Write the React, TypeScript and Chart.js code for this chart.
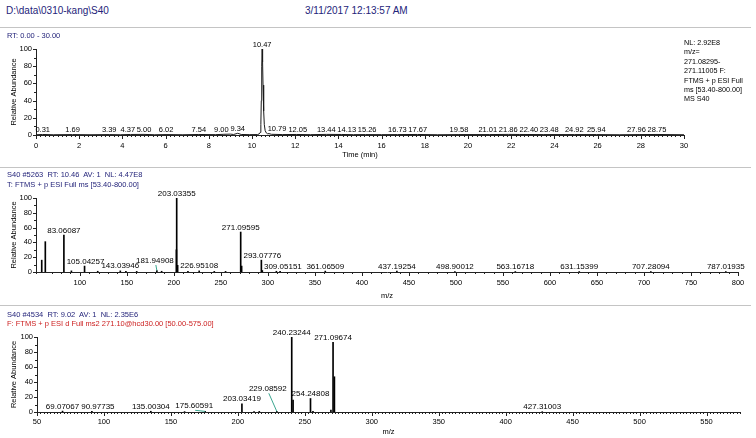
import React, { useEffect, useRef } from 'react';
import { Chart, registerables } from 'chart.js';

Chart.register(...registerables);

const FONT = 'Arial, "Liberation Sans", sans-serif';
const AXIS = '#222222';
const LEADER = '#3aa58f';

// ---------- Panel 1: chromatogram (time in min, relative abundance %) ----------
const chromTime = [
  0, 0.31, 0.8, 1.69, 2.5, 3.39, 3.9, 4.37, 5.0, 5.5, 6.02, 6.8, 7.54, 8.3, 8.7, 9.0, 9.15, 9.34, 9.5, 9.9,
  10.25, 10.33, 10.38, 10.41, 10.43, 10.45, 10.47, 10.49, 10.51, 10.54, 10.57, 10.61, 10.66, 10.72, 10.79, 10.9,
  11.4, 12.05, 12.7, 13.44, 14.13, 14.7, 15.26, 16.0, 16.73, 17.67, 18.6, 19.58, 21.01, 21.86, 22.4, 23.48,
  24.92, 25.94, 27.0, 27.96, 28.75, 30.0,
];
const chromAbund = [
  0.3, 0.6, 0.3, 0.5, 0.3, 0.5, 0.3, 0.6, 0.7, 0.3, 0.5, 0.3, 0.6, 0.4, 0.8, 1.0, 0.6, 2.0, 0.6, 0.4,
  0.5, 1.2, 3, 12, 40, 80, 100, 85, 58, 28, 12, 5, 2.5, 1.4, 1.6, 0.8,
  0.5, 0.6, 0.4, 0.7, 0.6, 0.4, 0.5, 0.4, 0.5, 0.6, 0.3, 0.5, 0.5, 0.7, 0.6, 0.5,
  0.5, 0.5, 0.3, 0.5, 0.6, 0.3,
];
const chromPeakLabels = [
  '0.31', '1.69', '3.39', '4.37', '5.00', '6.02', '7.54', '9.00', '9.34', '10.47', '10.79', '12.05', '13.44',
  '14.13', '15.26', '16.73', '17.67', '19.58', '21.01', '21.86', '22.40', '23.48', '24.92', '25.94', '27.96', '28.75',
];

// ---------- Panel 2: full MS spectrum ----------
const ms1Mz = [
  59.49, 63.3, 83.06087, 91.05, 105.04257, 119.05, 143.03946, 149.02, 160.5, 181.94908, 187.0, 202.7, 203.03355,
  204.04, 215.0, 226.95108, 243.0, 255.0, 271.09595, 272.1, 293.07776, 294.08, 309.05151, 313.0, 361.06509,
  437.19254, 498.90012, 563.16718, 631.15399, 707.28094, 787.01935,
];
const ms1Abund = [
  16, 41, 50, 1.5, 8, 1, 1.5, 1, 0.8, 2, 1, 30, 100,
  9, 1, 1.5, 0.8, 0.8, 54, 8, 16, 2, 1, 1, 1.2,
  1.2, 0.6, 0.6, 0.6, 0.6, 0.6,
];
const ms1PeakLabels = [
  '83.06087', '105.04257', '143.03946', '181.94908', '203.03355', '226.95108', '271.09595', '293.07776',
  '309.05151', '361.06509', '437.19254', '498.90012', '563.16718', '631.15399', '707.28094', '787.01935',
];

// ---------- Panel 3: MS2 spectrum ----------
const ms2Mz = [
  69.07067, 90.97735, 135.00304, 160.2, 175.60591, 203.03419, 212.1, 216.0, 229.08592, 240.23244, 241.24,
  254.24808, 256.1, 269.5, 271.09674, 272.1, 427.31003,
];
const ms2Abund = [
  1.2, 0.8, 1, 0.5, 0.8, 11, 0.5, 0.8, 0.8, 100, 16,
  18, 1, 2.5, 93, 47, 0.4,
];
const ms2PeakLabels = [
  '69.07067', '90.97735', '135.00304', '175.60591', '203.03419', '229.08592', '240.23244', '254.24808',
  '271.09674', '427.31003',
];

// labels that are moved off their peak and joined to it by a leader line (style constants)
const leaderLabels: Record<string, { lift: number; dx: number }> = {
  '181.94908': { lift: 6.8, dx: -2 },
  '229.08592': { lift: 23.5, dx: -9 },
  '175.60591': { lift: 0.8, dx: -11 },
};

const isMajor = (v: number, major: number) => Math.abs(v / major - Math.round(v / major)) < 1e-6;

type LabelItem = { x: number; y: number; text: string };
type Box = { x0: number; x1: number; y0: number; y1: number };

function buildLabels(xs: number[], ys: number[], labels: string[]): LabelItem[] {
  const out: LabelItem[] = [];
  for (const s of labels) {
    const v = parseFloat(s);
    const i = xs.findIndex((x) => Math.abs(x - v) < 1e-6);
    if (i >= 0) out.push({ x: xs[i], y: ys[i], text: s });
  }
  return out;
}

const overlap = (a: Box, b: Box) => a.x0 < b.x1 && a.x1 > b.x0 && a.y0 < b.y1 && a.y1 > b.y0;

const tickMarkPlugin = {
  id: 'tickMarks',
  afterDraw(chart: any) {
    const { ctx, chartArea } = chart;
    const xs = chart.scales.x;
    const ys = chart.scales.y;
    ctx.save();
    ctx.strokeStyle = AXIS;
    ctx.lineWidth = 1;
    ctx.beginPath();
    for (const t of xs.ticks) {
      const px = Math.round(xs.getPixelForValue(t.value)) + 0.5;
      const len = t.label ? 4 : 2;
      ctx.moveTo(px, chartArea.bottom);
      ctx.lineTo(px, chartArea.bottom + len);
    }
    for (const t of ys.ticks) {
      const py = Math.round(ys.getPixelForValue(t.value)) + 0.5;
      const len = t.label ? 3 : 2;
      ctx.moveTo(chartArea.left, py);
      ctx.lineTo(chartArea.left - len, py);
    }
    ctx.stroke();
    ctx.restore();
  },
};

function labelPlugin(items: LabelItem[], fontSize: number) {
  return {
    id: 'peakLabels',
    afterDatasetsDraw(chart: any) {
      const { ctx, chartArea } = chart;
      const xs = chart.scales.x;
      const ys = chart.scales.y;
      const bottom = chartArea.bottom;
      const pts = chart.data.datasets[0].data as { x: number; y: number }[];
      const obstacles = pts.map((d) => {
        const px = xs.getPixelForValue(d.x);
        return { v: d.x, box: { x0: px - 1, x1: px + 1, y0: ys.getPixelForValue(d.y), y1: bottom } };
      });
      const GAP = 1.5;
      const LIFT = 2.5;
      const capH = fontSize * 0.75;
      ctx.save();
      ctx.font = `${fontSize}px ${FONT}`;
      ctx.fillStyle = '#000';
      ctx.textAlign = 'center';
      ctx.textBaseline = 'alphabetic';
      const placed: Box[] = [];
      const order = items.slice().sort((a, b) => {
        const la = leaderLabels[a.text] ? 1 : 0;
        const lb = leaderLabels[b.text] ? 1 : 0;
        if (la !== lb) return lb - la;
        return b.y - a.y;
      });
      for (const it of order) {
        const px = xs.getPixelForValue(it.x);
        const py = ys.getPixelForValue(it.y);
        const w = ctx.measureText(it.text).width;
        const ld = leaderLabels[it.text];
        if (ld) {
          const ly = ys.getPixelForValue(it.y + ld.lift);
          const lx = px + ld.dx;
          const base = ly - LIFT;
          ctx.fillText(it.text, lx, base);
          ctx.strokeStyle = LEADER;
          ctx.lineWidth = 1;
          ctx.beginPath();
          ctx.moveTo(lx + 1, ly - 0.5);
          ctx.lineTo(px, py);
          ctx.stroke();
          placed.push({ x0: lx - w / 2, x1: lx + w / 2, y0: base - capH, y1: base });
          continue;
        }
        const base = py - LIFT;
        let shift = 0;
        for (let k = 0; k <= 160; k++) {
          const s = (k % 2 === 1 ? 1 : -1) * Math.ceil(k / 2) * 0.5;
          const box = { x0: px + s - w / 2 - GAP, x1: px + s + w / 2 + GAP, y0: base - capH, y1: base };
          const hit =
            placed.some((b) => overlap(box, b)) ||
            obstacles.some((o) => Math.abs(o.v - it.x) > 1e-9 && overlap(box, o.box));
          if (!hit) {
            shift = s;
            break;
          }
        }
        ctx.fillText(it.text, px + shift, base);
        placed.push({ x0: px + shift - w / 2, x1: px + shift + w / 2, y0: base - capH, y1: base });
      }
      ctx.restore();
    },
  };
}

type Spec = {
  xMin: number;
  xMax: number;
  xMinor: number;
  xMajor: number;
  xTitle: string;
  padTop: number;
  padRight: number;
  yAxisW: number;
  xAxisH: number;
  xTickPad: number;
  xTitlePad: number;
  labelFont: number;
};

function buildConfig(kind: 'line' | 'bar', xs: number[], ys: number[], labels: string[], spec: Spec): any {
  const points = xs.map((x, i) => ({ x, y: ys[i] }));
  const dataset: any =
    kind === 'line'
      ? { data: points, borderColor: '#1a1a1a', borderWidth: 1, pointRadius: 0, tension: 0, fill: false }
      : { data: points, backgroundColor: '#000', borderWidth: 0, barThickness: 1, grouped: false };
  const tickFont = { family: FONT, size: 7.5 };
  return {
    type: kind,
    data: { datasets: [dataset] },
    options: {
      animation: false,
      responsive: false,
      maintainAspectRatio: false,
      devicePixelRatio: 1,
      events: [],
      layout: { padding: { left: 0, top: spec.padTop, right: spec.padRight, bottom: 0 } },
      plugins: { legend: { display: false }, tooltip: { enabled: false }, title: { display: false } },
      scales: {
        x: {
          type: 'linear',
          position: 'bottom',
          min: spec.xMin,
          max: spec.xMax,
          offset: false,
          grid: { display: false, drawTicks: false },
          border: { display: true, color: AXIS, width: 1 },
          ticks: {
            stepSize: spec.xMinor,
            autoSkip: false,
            maxRotation: 0,
            minRotation: 0,
            padding: spec.xTickPad,
            color: '#000',
            font: tickFont,
            callback: (v: any) => (isMajor(Number(v), spec.xMajor) ? String(Math.round(Number(v))) : ''),
          },
          title: {
            display: true,
            text: spec.xTitle,
            color: '#000',
            font: tickFont,
            padding: { top: 0, bottom: spec.xTitlePad },
          },
          afterFit: (s: any) => {
            s.height = spec.xAxisH;
            s.paddingLeft = 0;
            s.paddingRight = 0;
          },
        },
        y: {
          type: 'linear',
          min: 0,
          max: 100,
          grid: { display: false, drawTicks: false },
          border: { display: true, color: AXIS, width: 1 },
          ticks: {
            stepSize: 10,
            autoSkip: false,
            padding: 4,
            color: '#000',
            font: tickFont,
            callback: (v: any) => (isMajor(Number(v), 20) ? String(Math.round(Number(v))) : ''),
          },
          title: {
            display: true,
            text: 'Relative Abundance',
            color: '#000',
            font: tickFont,
            padding: { top: 9, bottom: 0 },
          },
          afterFit: (s: any) => {
            s.width = spec.yAxisW;
            s.paddingTop = 0;
            s.paddingBottom = 0;
          },
        },
      },
    },
    plugins: [tickMarkPlugin, labelPlugin(buildLabels(xs, ys, labels), spec.labelFont)],
  };
}

function ChartCanvas({ top, height, build }: { top: number; height: number; build: () => any }) {
  const ref = useRef<HTMLCanvasElement>(null);
  useEffect(() => {
    const chart = new Chart(ref.current as HTMLCanvasElement, build());
    return () => chart.destroy();
  }, []);
  return (
    <canvas
      ref={ref}
      width={756}
      height={height}
      style={{ position: 'absolute', left: 0, top, width: 756, height, display: 'block' }}
    />
  );
}

const navy = '#24247a';

const txt = (left: number, top: number, size: number, color: string, lh?: number): React.CSSProperties => ({
  position: 'absolute',
  left,
  top,
  fontSize: size,
  color,
  lineHeight: `${lh ?? size + 2}px`,
  whiteSpace: 'pre',
  fontFamily: FONT,
});

const sep = (top: number): React.CSSProperties => ({
  position: 'absolute',
  left: 0,
  top,
  width: 751,
  height: 1,
  background: '#c4c4c4',
});

export default function App() {
  return (
    <div
      style={{
        position: 'fixed',
        left: 0,
        top: 0,
        width: 756,
        height: 438,
        background: '#fff',
        overflow: 'hidden',
        fontFamily: FONT,
      }}
    >
      <ChartCanvas
        top={28}
        height={137}
        build={() =>
          buildConfig('line', chromTime, chromAbund, chromPeakLabels, {
            xMin: 0, xMax: 30, xMinor: 0.2, xMajor: 2, xTitle: 'Time (min)',
            padTop: 21, padRight: 72, yAxisW: 36, xAxisH: 30, xTickPad: 6.3, xTitlePad: 5.3, labelFont: 7.5,
          })
        }
      />
      <ChartCanvas
        top={168}
        height={137}
        build={() =>
          buildConfig('bar', ms1Mz, ms1Abund, ms1PeakLabels, {
            xMin: 53.4, xMax: 800, xMinor: 10, xMajor: 50, xTitle: 'm/z',
            padTop: 30, padRight: 18, yAxisW: 36, xAxisH: 33, xTickPad: 6.3, xTitlePad: 4.3, labelFont: 8,
          })
        }
      />
      <ChartCanvas
        top={306}
        height={132}
        build={() =>
          buildConfig('bar', ms2Mz, ms2Abund, ms2PeakLabels, {
            xMin: 50, xMax: 575, xMinor: 2.5, xMajor: 50, xTitle: 'm/z',
            padTop: 31, padRight: 16, yAxisW: 37, xAxisH: 26, xTickPad: 5.3, xTitlePad: 1.3, labelFont: 8,
          })
        }
      />

      <div style={txt(6, 4, 10, navy, 13)}>{'D:\\data\\0310-kang\\S40'}</div>
      <div style={txt(305, 4, 10, navy, 13)}>3/11/2017 12:13:57 AM</div>
      <div style={sep(27)} />
      <div style={txt(7, 31, 7.5, navy, 10)}>RT: 0.00 - 30.00</div>
      <div style={txt(684, 38, 7.2, '#000', 9.4)}>
        {'NL: 2.92E8\nm/z=\n271.08295-\n271.11005 F:\nFTMS + p ESI Full\nms [53.40-800.00]\nMS S40'}
      </div>

      <div style={sep(167)} />
      <div style={txt(7, 170, 7.5, navy, 10)}>{'S40 #5263  RT: 10.46  AV: 1  NL: 4.47E8'}</div>
      <div style={txt(7, 180, 7.5, navy, 10)}>{'T: FTMS + p ESI Full ms [53.40-800.00]'}</div>

      <div style={sep(305)} />
      <div style={txt(7, 310, 7.5, navy, 10)}>{'S40 #4534  RT: 9.02  AV: 1  NL: 2.35E6'}</div>
      <div style={txt(7, 319, 7.5, '#cc1f1f', 10)}>{'F: FTMS + p ESI d Full ms2 271.10@hcd30.00 [50.00-575.00]'}</div>
    </div>
  );
}
